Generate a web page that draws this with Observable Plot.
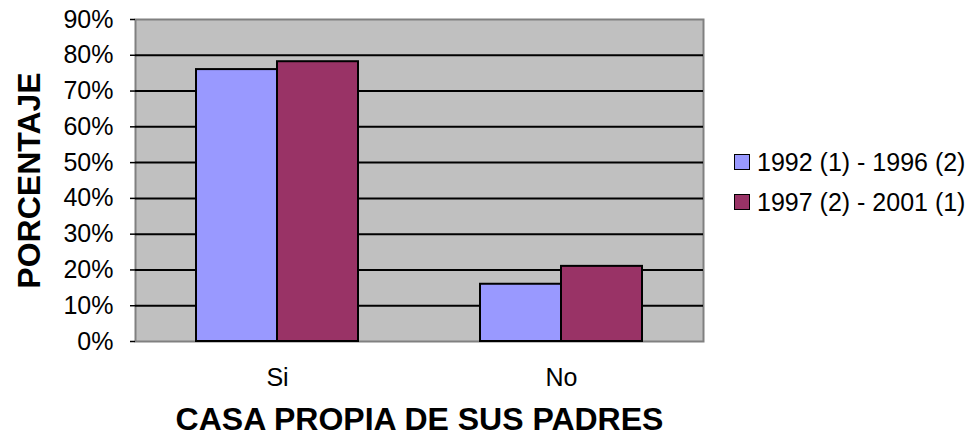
<!DOCTYPE html>
<html>
<head>
<meta charset="utf-8">
<script src="https://cdn.jsdelivr.net/npm/d3@7"></script>
<script src="https://cdn.jsdelivr.net/npm/@observablehq/plot@0.6"></script>
<style>
  html, body { margin: 0; padding: 0; background: #fff; }
  #wrap { position: relative; width: 974px; height: 447px; font-family: "Liberation Sans", Arial, sans-serif; }
  #legend { position: absolute; left: 734px; top: 142px; }
  .item { display: flex; align-items: center; height: 40px; font-size: 25px; color: #000; white-space: nowrap; }
  .sw { width: 14px; height: 14px; border: 1.5px solid #000; margin-right: 7px; flex: none; }
</style>
</head>
<body>
<div id="wrap"></div>
<script>
const categories = ["Si", "No"];
const series = ["1992 (1) - 1996 (2)", "1997 (2) - 2001 (1)"];
const values1992 = [0.76, 0.16];
const values1997 = [0.782, 0.21];
const colors = ["#9999ff", "#993366"];
const yTicks = [0, 0.1, 0.2, 0.3, 0.4, 0.5, 0.6, 0.7, 0.8, 0.9];
const gridTicks = [0.1, 0.2, 0.3, 0.4, 0.5, 0.6, 0.7, 0.8];
const xTitle = "CASA PROPIA DE SUS PADRES";
const yTitle = "PORCENTAJE";

const rows = [];
categories.forEach((c, i) => {
  rows.push({cat: c, series: series[0], value: values1992[i]});
  rows.push({cat: c, series: series[1], value: values1997[i]});
});

const chart = Plot.plot({
  width: 974,
  height: 447,
  marginLeft: 135,
  marginRight: 271,
  marginTop: 19,
  marginBottom: 106,
  style: {fontFamily: "Liberation Sans, Arial, sans-serif", fontSize: "25px", background: "white", color: "black"},
  fx: {domain: categories, padding: 0, label: null},
  x: {domain: series, paddingInner: 0, paddingOuter: 0.738, axis: null},
  y: {domain: [0, 0.9]},
  color: {domain: series, range: colors},
  marks: [
    Plot.frame({facet: "super", fill: "#c0c0c0", stroke: "#808080", strokeWidth: 2}),
    Plot.gridY(gridTicks, {stroke: "black", strokeOpacity: 1, strokeWidth: 2}),
    Plot.barY(rows, {fx: "cat", x: "series", y: "value", fill: "series", stroke: "black", strokeWidth: 2}),
    Plot.axisY({ticks: yTicks, tickFormat: d3.format(".0%"), tickSize: 5, tickPadding: 17, fontSize: 25, label: null, strokeWidth: 1.5}),
    Plot.axisFx({anchor: "bottom", tickSize: 0, tickPadding: 27, fontSize: 25, label: null}),
    Plot.text([xTitle], {text: d => d, facet: "super", frameAnchor: "bottom", dy: 88, fontSize: 32, fontWeight: "bold"}),
    Plot.text([yTitle], {text: d => d, facet: "super", frameAnchor: "left", textAnchor: "middle", dx: -106, rotate: -90, fontSize: 32, fontWeight: "bold"})
  ]
});

const wrap = document.getElementById("wrap");
wrap.appendChild(chart);
const legend = document.createElement("div");
legend.id = "legend";
series.forEach((s, i) => {
  const item = document.createElement("div");
  item.className = "item";
  const sw = document.createElement("span");
  sw.className = "sw";
  sw.style.background = colors[i];
  const t = document.createElement("span");
  t.textContent = s;
  item.appendChild(sw);
  item.appendChild(t);
  legend.appendChild(item);
});
wrap.appendChild(legend);
</script>
</body>
</html>
